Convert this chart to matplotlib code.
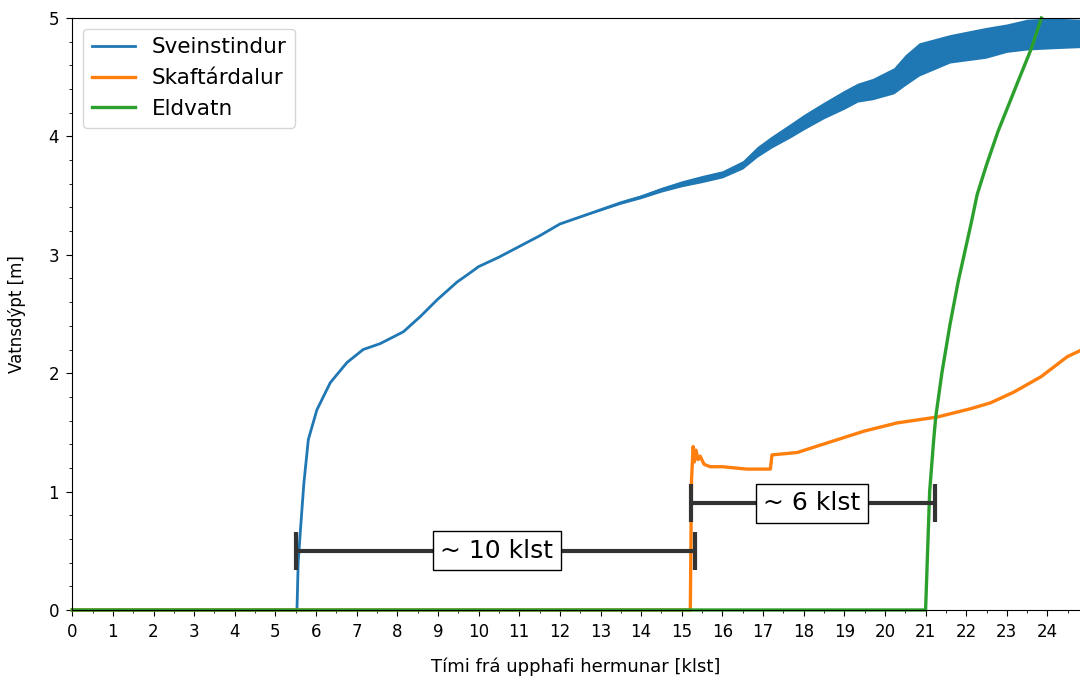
import numpy as np
import matplotlib
matplotlib.use("Agg")
import matplotlib.pyplot as plt
from matplotlib.ticker import MultipleLocator

# Sveinstindur: centre line and half width of the oscillation band
blue_t = [0, 5.53, 5.56, 5.61, 5.70, 5.81, 6.02, 6.35, 6.76, 7.16, 7.58, 8.15, 8.57,
          8.98, 9.47, 9.80, 10.0, 10.5, 11.0, 11.5, 12.0, 12.5, 13.0, 13.5, 14.0,
          14.5, 15.0, 15.5, 16.0, 16.5, 16.86, 17.2, 17.68, 18.0, 18.5, 19.0, 19.33,
          19.7, 20.22, 20.5, 20.84, 21.6, 22.48, 23.0, 23.5, 24.1, 24.8]
blue_y = [0, 0, 0.40, 0.65, 1.07, 1.44, 1.69, 1.92, 2.09, 2.20, 2.25, 2.35, 2.48,
          2.62, 2.77, 2.85, 2.90, 2.98, 3.07, 3.16, 3.26, 3.32, 3.38, 3.44, 3.49,
          3.55, 3.60, 3.64, 3.68, 3.76, 3.87, 3.95, 4.05, 4.12, 4.22, 4.31, 4.37,
          4.40, 4.47, 4.56, 4.65, 4.74, 4.79, 4.83, 4.86, 4.87, 4.87]
blue_w = [0, 0, 0, 0, 0, 0, 0, 0, 0, 0, 0, 0, 0,
          0, 0, 0, 0, 0, 0, 0, 0, 0.004, 0.008, 0.012, 0.015,
          0.02, 0.025, 0.03, 0.03, 0.035, 0.045, 0.05, 0.06, 0.065, 0.07, 0.08, 0.08,
          0.09, 0.11, 0.13, 0.14, 0.12, 0.13, 0.12, 0.13, 0.13, 0.12]

# Skaftardalur
orange_t = [0, 15.21, 15.24, 15.28, 15.31, 15.35, 15.40, 15.45, 15.55, 15.7, 16.0,
            16.6, 17.18, 17.22, 17.84, 18.66, 19.48, 20.3, 21.29, 22.11, 22.6,
            23.17, 23.84, 24.49, 24.8]
orange_y = [0, 0, 1.10, 1.38, 1.25, 1.35, 1.27, 1.30, 1.23, 1.21, 1.21,
            1.19, 1.19, 1.31, 1.33, 1.42, 1.51, 1.58, 1.63, 1.70, 1.75,
            1.84, 1.97, 2.14, 2.19]

# Eldvatn
green_t = [0, 21.0, 21.05, 21.1, 21.2, 21.25, 21.4, 21.6, 21.8, 22.13, 22.27, 22.5,
           22.78, 23.27, 23.6, 23.85]
green_y = [0, 0, 0.5, 1.0, 1.44, 1.63, 2.0, 2.41, 2.77, 3.28, 3.51, 3.76,
           4.04, 4.46, 4.74, 5.0]

# time gaps between arrivals
gap_start = [5.5, 15.22]
gap_end = [15.32, 21.22]
gap_level = [0.5, 0.9]
gap_text = ["~ 10 klst", "~ 6 klst"]
gap_text_x = [10.45, 18.2]

fig = plt.figure(figsize=(10.8, 6.82), dpi=100)
ax = fig.add_axes([0.0669, 0.1056, 0.9331, 0.868])

blue_lo = np.array(blue_y) - np.array(blue_w)
blue_hi = np.array(blue_y) + np.array(blue_w)
ax.fill_between(blue_t, blue_lo, blue_hi, color="#1f77b4", lw=0)
ax.plot(blue_t, blue_y, color="#1f77b4", lw=2, label="Sveinstindur", clip_on=False)
ax.plot(orange_t, orange_y, color="#ff7f0e", lw=2.4, label="Skaftárdalur", clip_on=False)
ax.plot(green_t, green_y, color="#2ca02c", lw=2.4, label="Eldvatn", clip_on=False)

for s, e, lev, txt, tx in zip(gap_start, gap_end, gap_level, gap_text, gap_text_x):
    c = (s + e) / 2
    ax.errorbar([c], [lev], xerr=[[c - s], [e - c]], color="#333333",
                lw=3, capsize=14, capthick=3, zorder=4)
    ax.text(tx, lev, txt, fontsize=18, ha="center", va="center", zorder=5,
            bbox=dict(facecolor="white", edgecolor="black", boxstyle="square,pad=0.3"))

ax.set_xlim(0, 24.8)
ax.set_ylim(0, 5)
ax.spines["right"].set_visible(False)
ax.xaxis.set_major_locator(MultipleLocator(1))
ax.xaxis.set_minor_locator(MultipleLocator(0.5))
ax.yaxis.set_major_locator(MultipleLocator(1))
ax.yaxis.set_minor_locator(MultipleLocator(0.2))
ax.tick_params(labelsize=12, pad=5)
ax.tick_params(which="major", length=4.5)
ax.tick_params(which="minor", length=2.5)
ax.set_xlabel("Tími frá upphafi hermunar [klst]", fontsize=13, labelpad=12)
ax.set_ylabel("Vatnsdýpt [m]", fontsize=12, labelpad=16)
ax.legend(loc="upper left", fontsize=15.5)

fig.savefig("out.png", dpi=100)
